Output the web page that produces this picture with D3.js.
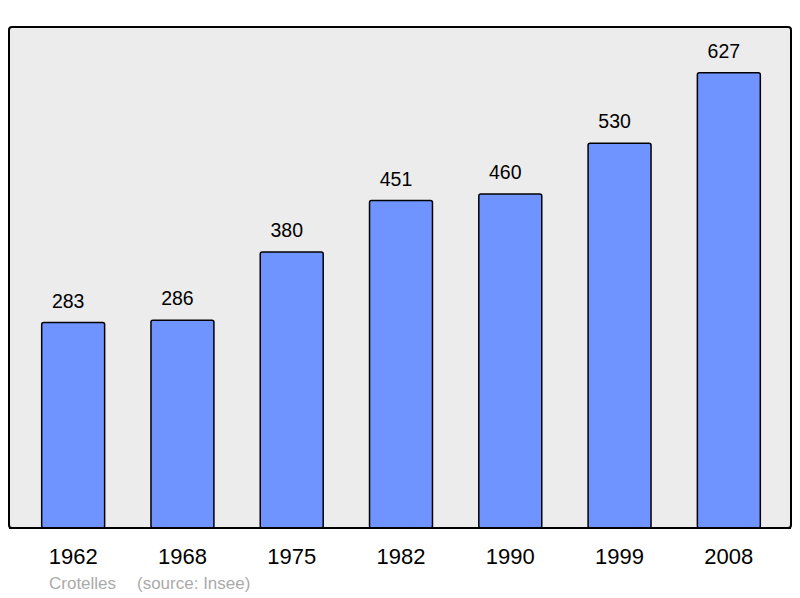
<!DOCTYPE html>
<html>
<head>
<meta charset="utf-8">
<script src="https://cdn.jsdelivr.net/npm/d3@7"></script>
<style>
  body { margin: 0; background: #fff; }
  text { font-family: "Liberation Sans", Arial, sans-serif; }
</style>
</head>
<body>
<script>
var years = ["1962", "1968", "1975", "1982", "1990", "1999", "2008"];
var population = [283, 286, 380, 451, 460, 530, 627];
var place = "Crotelles";
var source = "(source: Insee)";

var width = 800, height = 598;
var frame = { left: 9, top: 27, right: 791, bottom: 528 };

var svg = d3.select("body")
  .append("svg")
  .attr("width", width)
  .attr("height", height);

var x = d3.scaleBand()
  .domain(years)
  .range([frame.left + 1, frame.right + 1])
  .paddingInner(0.424)
  .paddingOuter(0.29);

var y = d3.scaleLinear()
  .domain([0, 690])
  .range([frame.bottom, frame.top]);

svg.append("rect")
  .attr("x", frame.left)
  .attr("y", frame.top)
  .attr("width", frame.right - frame.left)
  .attr("height", frame.bottom - frame.top)
  .attr("rx", 3)
  .attr("fill", "#ececec")
  .attr("stroke", "#000")
  .attr("stroke-width", 2);

var bars = svg.selectAll("rect.bar")
  .data(population)
  .enter()
  .append("rect")
  .attr("class", "bar")
  .attr("x", function(d, i) { return x(years[i]); })
  .attr("y", function(d) { return y(d); })
  .attr("width", x.bandwidth())
  .attr("height", function(d) { return y(0) - y(d); })
  .attr("rx", 2)
  .attr("fill", "#7094ff")
  .attr("stroke", "#000")
  .attr("stroke-width", 1.5);

// redraw bottom edge of frame over bars
svg.append("line")
  .attr("x1", frame.left)
  .attr("x2", frame.right)
  .attr("y1", frame.bottom)
  .attr("y2", frame.bottom)
  .attr("stroke", "#000")
  .attr("stroke-width", 2);

// value labels sit a little left of the bar centre
svg.selectAll("text.value")
  .data(population)
  .enter()
  .append("text")
  .attr("class", "value")
  .attr("x", function(d, i) { return x(years[i]) + x.bandwidth() / 2 - 5; })
  .attr("y", function(d) { return y(d) - 15; })
  .attr("text-anchor", "middle")
  .attr("font-size", 19.5)
  .attr("fill", "#000")
  .text(function(d) { return d; });

svg.selectAll("text.year")
  .data(years)
  .enter()
  .append("text")
  .attr("class", "year")
  .attr("x", function(d) { return x(d) + x.bandwidth() / 2; })
  .attr("y", 564)
  .attr("text-anchor", "middle")
  .attr("font-size", 22)
  .attr("fill", "#000")
  .text(function(d) { return d; });

svg.append("text")
  .attr("x", 49)
  .attr("y", 589)
  .attr("font-size", 17)
  .attr("fill", "#aaa")
  .text(place);

svg.append("text")
  .attr("x", 137)
  .attr("y", 589)
  .attr("font-size", 17)
  .attr("fill", "#aaa")
  .text(source);
</script>
</body>
</html>
